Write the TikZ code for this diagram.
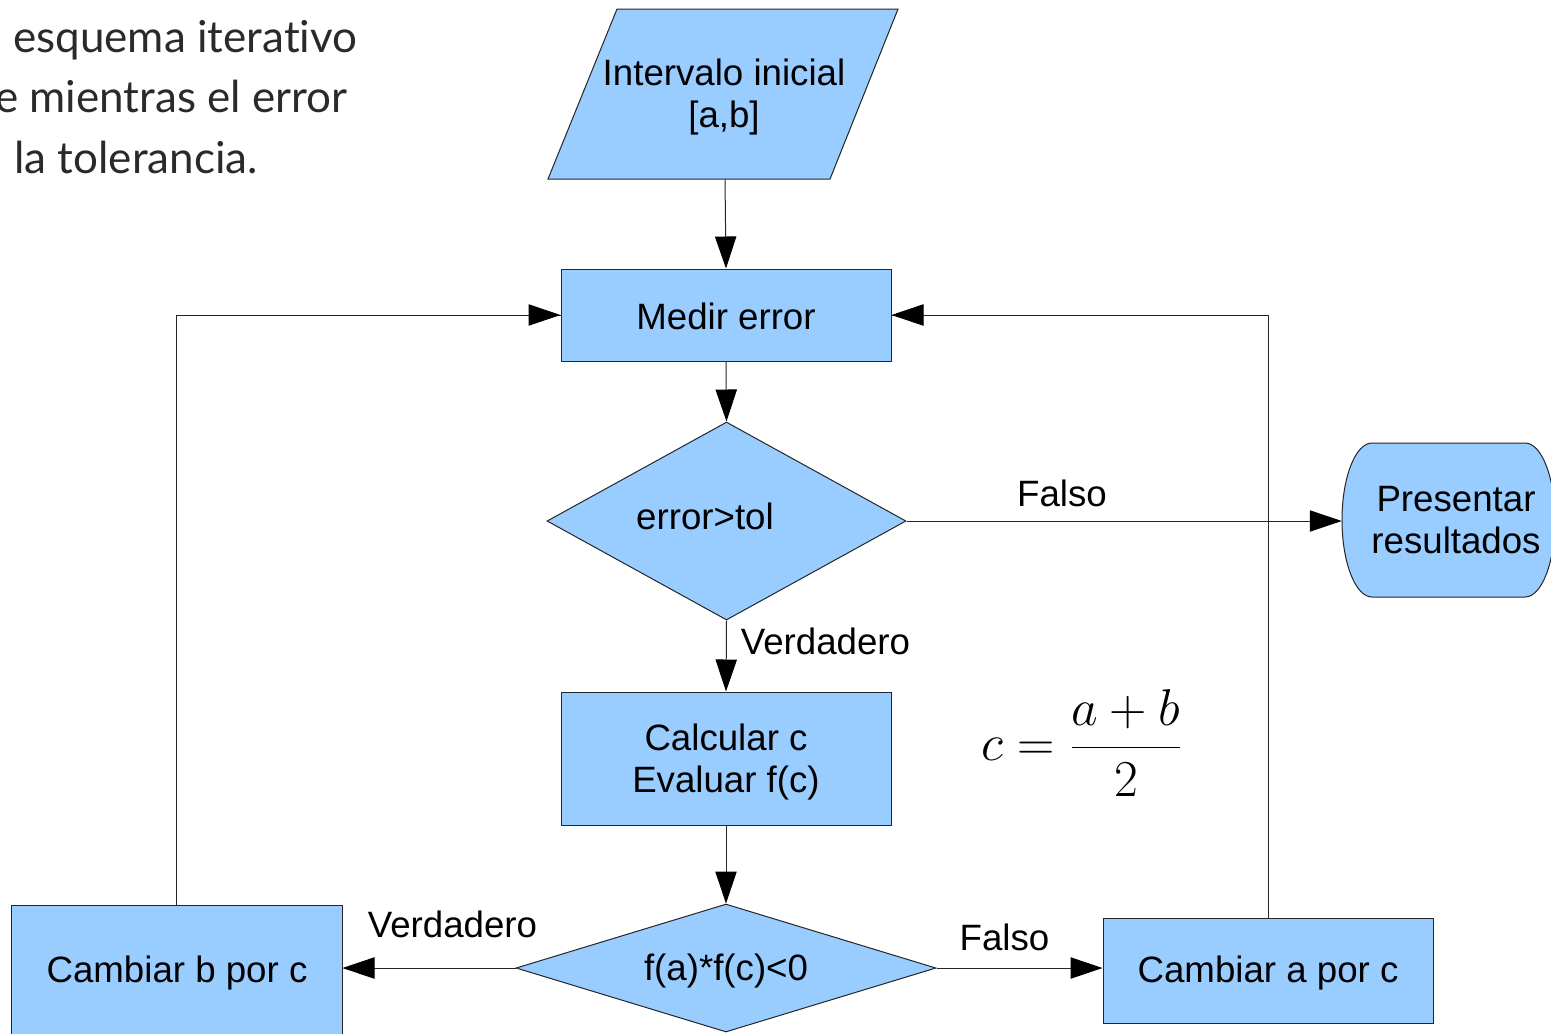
\documentclass[tikz,border=0pt]{standalone}
\usepackage{fontspec}
\setmainfont{Liberation Sans}
\newfontfamily\introfont[Ligatures=NoCommon]{Lato}
\usetikzlibrary{shapes.geometric,arrows.meta}
\definecolor{boxblue}{HTML}{99CCFF}
\definecolor{introgray}{HTML}{2A2A2A}
\newcommand{\mainsize}{\fontsize{27.5pt}{31.5pt}\selectfont}
\begin{document}
\begin{tikzpicture}[x=0.75pt,y=-0.75pt,
  shapeline/.style={draw=black!85, line width=0.75pt, fill=boxblue},
  procbox/.style={shapeline, rectangle, inner sep=0pt},
  decision/.style={shapeline, diamond, inner sep=0pt},
  plaintext/.style={inner sep=0pt, font=\mainsize, align=center},
  conn/.style={draw=black!85, line width=0.75pt, -{Triangle[length=24pt,width=16pt,color=black]}},
  loopline/.style={draw=black!85, line width=0.75pt},
  introtext/.style={inner sep=0pt, font=\introfont\fontsize{33pt}{40pt}\selectfont, text=introgray}]
\useasboundingbox (0,0) rectangle (1551,1033);
\clip (0,0) rectangle (1551,1033);

% intro text (clipped at the left, as in the reference)
\node[introtext, anchor=base west] (intro1) at (13,52) {esquema iterativo};
\node[introtext, anchor=base east] (intro2) at (348,112) {e mientras el error};
\node[introtext, anchor=base west] (intro3) at (14,173) {la tolerancia.};

% parallelogram
\path[shapeline] (617,9) -- (898,9) -- (830,179) -- (548,179) -- cycle;
\node[plaintext, minimum width=200*0.75, minimum height=170*0.75] (par) at (725,94) {};
\node[plaintext] (partext) at (724,97) {Intervalo inicial\\{}[a,b]};

% terminal shape
\path[shapeline] (1372,443) -- (1525,443)
  .. controls (1541.6,443) and (1555,477.5) .. (1555,520)
  .. controls (1555,562.5) and (1541.6,597) .. (1525,597)
  -- (1372,597)
  .. controls (1355.4,597) and (1342,562.5) .. (1342,520)
  .. controls (1342,477.5) and (1355.4,443) .. (1372,443) -- cycle;
\node[plaintext, minimum width=213*0.75, minimum height=154*0.75] (res) at (1448.5,520) {};
\node[plaintext] (restext) at (1456,520) {Presentar\\resultados};

% process boxes
\node[procbox, minimum width=330*0.75, minimum height=92*0.75] (me) at (726,315) {};
\node[plaintext] (metext) at (726,316) {Medir error};
\node[procbox, minimum width=330*0.75, minimum height=133*0.75] (calc) at (726,758.5) {};
\node[plaintext] (calctext) at (726,761.5) {Calcular c\\Evaluar f(c)};
\node[procbox, minimum width=331*0.75, minimum height=130*0.75] (cb) at (176.5,970) {};
\node[plaintext] (cbtext) at (177,973) {Cambiar b por c};
\node[procbox, minimum width=330*0.75, minimum height=105*0.75] (ca) at (1268,970.5) {};
\node[plaintext] (catext) at (1268,972.5) {Cambiar a por c};

% decisions
\node[decision, minimum width=359*0.75, minimum height=198*0.75] (d1) at (726.5,521) {};
\node[plaintext] (d1text) at (705,516) {error>tol};
\node[decision, minimum width=420*0.75, minimum height=128*0.75] (d2) at (726,968) {};
\node[plaintext] (d2text) at (726,970.5) {f(a)*f(c)<0};

% formula
\node[inner sep=0pt, font=\fontsize{24.88pt}{30pt}\selectfont] (formula) at (1082,743) {\scalebox{1.56}{$\displaystyle c=\frac{a+b}{2}$}};

% connectors
\draw[conn] (par.south) -- (me.north);
\draw[conn] (me.south) -- (d1.north);
\draw[conn] (d1.east) -- (d1.east -| res.west);
\draw[conn] (d1.south) -- (calc.north);
\draw[conn] (calc.south) -- (d2.north);
\draw[conn] (d2.west) -- (d2.west -| cb.east);
\draw[conn] (d2.east) -- (d2.east -| ca.west);
\draw[loopline] (cb.north) |- (me.west);
\draw[conn] (cb.north |- me.west) -- (me.west);
\draw[loopline] (ca.north) |- (me.east);
\draw[conn] (ca.north |- me.east) -- (me.east);

% labels
\node[plaintext] (lf1) at (1062,493) {Falso};
\node[plaintext] (lv1) at (825.5,641) {Verdadero};
\node[plaintext] (lv2) at (452.5,924) {Verdadero};
\node[plaintext] (lf2) at (1004.5,937) {Falso};
\end{tikzpicture}
\end{document}
